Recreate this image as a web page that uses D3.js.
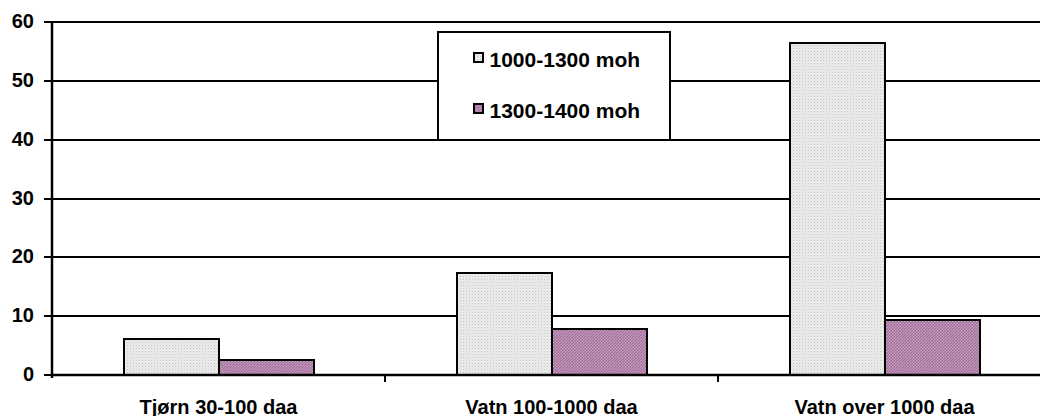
<!DOCTYPE html>
<html>
<head>
<meta charset="utf-8">
<script src="https://cdn.jsdelivr.net/npm/d3@7"></script>
<style>
  html, body { margin: 0; padding: 0; background: #fff; }
  svg { display: block; }
  text { font-family: "Liberation Sans", Arial, sans-serif; font-weight: bold; fill: #000; }
</style>
</head>
<body>
<svg id="chart" width="1040" height="416"></svg>
<script>
const categories = ["Tjørn 30-100 daa", "Vatn 100-1000 daa", "Vatn over 1000 daa"];
const seriesNames = ["1000-1300 moh", "1300-1400 moh"];
const series1 = [6.2, 17.4, 56.5];
const series2 = [2.5, 7.9, 9.3];
const yTicks = [0, 10, 20, 30, 40, 50, 60];

(function () {
const svg = d3.select("#chart");
const mLeft = 52, mRight = 1051, mTop = 22, mBottom = 375;

const defs = svg.append("defs");
const pg = defs.append("pattern").attr("id", "patGray").attr("patternUnits", "userSpaceOnUse")
  .attr("width", 3).attr("height", 3);
pg.append("rect").attr("width", 3).attr("height", 3).attr("fill", "#ececec");
pg.append("rect").attr("x", 0).attr("y", 0).attr("width", 1).attr("height", 1).attr("fill", "#c4c4c4");
pg.append("rect").attr("x", 1.5).attr("y", 1.5).attr("width", 1).attr("height", 1).attr("fill", "#d4d4d4");

const pp = defs.append("pattern").attr("id", "patPink").attr("patternUnits", "userSpaceOnUse")
  .attr("width", 3).attr("height", 3);
pp.append("rect").attr("width", 3).attr("height", 3).attr("fill", "#c79bc0");
pp.append("path").attr("d", "M0,3 L3,0").attr("stroke", "#9a6893").attr("stroke-width", 1.1);

const x0 = d3.scaleBand().domain(categories).range([mLeft, mRight]).paddingInner(0).paddingOuter(0);
// Excel gap width 75%: group width = band / 1.75
const groupW = Math.round(x0.bandwidth() / 1.75);
const x1 = d3.scaleBand().domain(seriesNames)
  .range([Math.round((x0.bandwidth() - groupW) / 2), Math.round((x0.bandwidth() - groupW) / 2) + groupW]).padding(0);

const y = d3.scaleLinear().domain([0, 60]).rangeRound([mBottom, mTop]);

// gridlines
svg.append("g").selectAll("line").data(yTicks.filter(d => d > 0)).join("line")
  .attr("x1", mLeft).attr("x2", mRight)
  .attr("y1", d => y(d)).attr("y2", d => y(d))
  .attr("stroke", "#000").attr("stroke-width", 2);

// y axis
const yAxis = d3.axisLeft(y).tickValues(yTicks).tickSize(8).tickPadding(10).tickFormat(d3.format("d"));
const gy = svg.append("g").attr("transform", `translate(${mLeft},0)`).call(yAxis);
gy.select(".domain").attr("stroke", "#000").attr("stroke-width", 2.5)
  .attr("d", `M0,${mTop}V${mBottom + 3}`);
gy.selectAll(".tick line").attr("stroke", "#000").attr("stroke-width", 2);
gy.selectAll(".tick").attr("transform", d => `translate(0,${y(d)})`);
gy.selectAll(".tick text").attr("font-size", 20).attr("font-family", "Liberation Sans, Arial, sans-serif")
  .attr("font-weight", "bold").attr("fill", "#000").attr("x", -18);

// bars
const data = categories.map((c, i) => ({ cat: c, vals: [series1[i], series2[i]] }));
const fills = ["url(#patGray)", "url(#patPink)"];
const groups = svg.append("g").selectAll("g").data(data).join("g")
  .attr("transform", d => `translate(${Math.round(x0(d.cat))},0)`);
groups.selectAll("rect").data(d => d.vals.map((v, j) => ({ v, s: seriesNames[j], j }))).join("rect")
  .attr("x", d => Math.round(x1(d.s))).attr("width", Math.round(x1.bandwidth()))
  .attr("y", d => y(d.v)).attr("height", d => y(0) - y(d.v))
  .attr("fill", d => fills[d.j]).attr("stroke", "#000").attr("stroke-width", 2);

// x axis
const xAxis = d3.axisBottom(x0).tickSize(0).tickPadding(0);
const gx = svg.append("g").attr("transform", `translate(0,${mBottom})`).call(xAxis);
gx.select(".domain").attr("stroke", "#000").attr("stroke-width", 2.5).attr("d", `M${mLeft},0H${mRight}`);
gx.selectAll(".tick text").attr("font-size", 20).attr("font-family", "Liberation Sans, Arial, sans-serif")
  .attr("font-weight", "bold").attr("fill", "#000").attr("y", 38.5).attr("dy", 0);
// category divider ticks
gx.append("g").selectAll("line").data(categories.slice(1)).join("line")
  .attr("x1", d => Math.round(x0(d))).attr("x2", d => Math.round(x0(d))).attr("y1", 0).attr("y2", 7)
  .attr("stroke", "#000").attr("stroke-width", 2);

// legend
const lg = svg.append("g");
lg.append("rect").attr("x", 438).attr("y", 32).attr("width", 232).attr("height", 108)
  .attr("fill", "#fff").attr("stroke", "#000").attr("stroke-width", 2);
const items = lg.selectAll("g.item").data(seriesNames).join("g").attr("class", "item")
  .attr("transform", (d, i) => `translate(474,${53 + i * 51})`);
items.append("rect").attr("width", 9).attr("height", 9)
  .attr("fill", (d, i) => fills[i]).attr("stroke", "#000").attr("stroke-width", 2);
items.append("text").attr("x", 15.5).attr("y", 13.5).attr("font-size", 21).text(d => d);
})();
</script>
</body>
</html>
